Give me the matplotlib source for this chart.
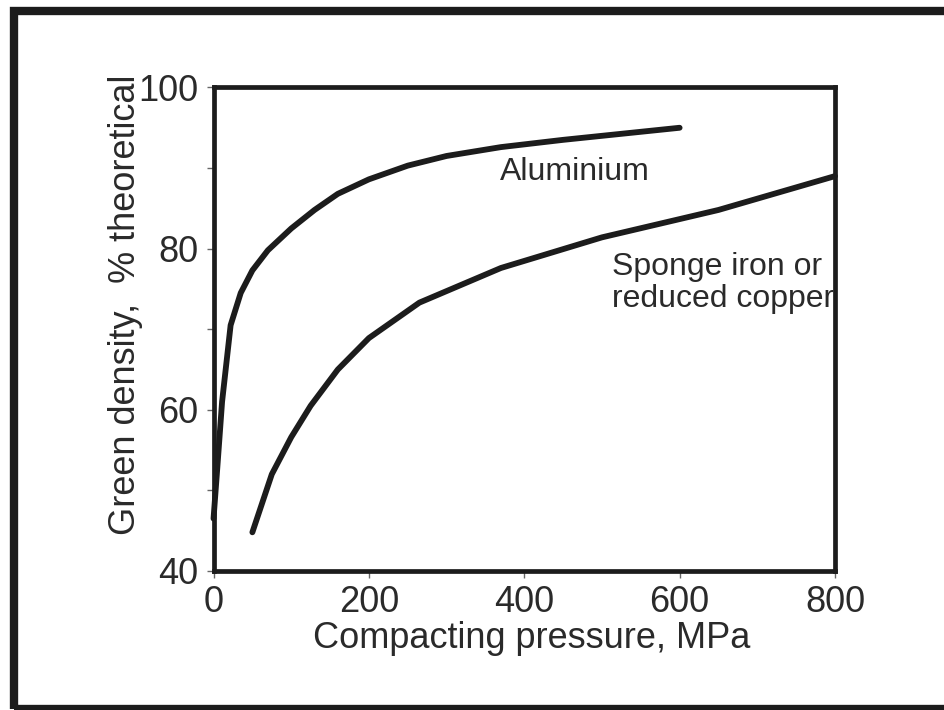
import matplotlib

matplotlib.use("Agg")
import matplotlib.pyplot as plt
from matplotlib.patches import Rectangle
from matplotlib.ticker import MultipleLocator

# values
al_pressure = [0, 5, 11, 22, 35, 50, 70, 100, 130, 160, 200, 250, 300, 370, 450, 520, 600]
al_density = [46.5, 53, 61, 70.5, 74.5, 77.3, 79.8, 82.5, 84.8, 86.8, 88.6, 90.3, 91.5,
              92.6, 93.5, 94.2, 95.0]
fe_pressure = [50, 75, 100, 125, 160, 200, 265, 370, 500, 650, 800]
fe_density = [44.8, 52, 56.6, 60.5, 65, 68.9, 73.3, 77.6, 81.4, 84.8, 89]
x_ticks = [0, 200, 400, 600, 800]
y_ticks = [40, 60, 80, 100]

INK = "#1c1c1c"
TXT = "#2a2a2a"
plt.rcParams["font.family"] = ["Liberation Sans", "DejaVu Sans"]

fig = plt.figure(figsize=(9.44, 7.10), dpi=100)
ax = fig.add_axes([0.2262, 0.1958, 0.6583, 0.6810])

for xs, ys in ((al_pressure, al_density), (fe_pressure, fe_density)):
    ax.plot(xs, ys, color=INK, lw=4.2, solid_capstyle="round",
            solid_joinstyle="round", clip_on=False)

ax.set_xlim(0, 800)
ax.set_ylim(40, 100)
ax.set_xticks(x_ticks)
ax.set_yticks(y_ticks)
ax.yaxis.set_minor_locator(MultipleLocator(10))
for s in ax.spines.values():
    s.set_linewidth(3.4)
    s.set_color(INK)
ax.tick_params(which="both", direction="out", length=5, width=1.0, color="#666666",
               labelsize=26, labelcolor=TXT, pad=5)
ax.tick_params(axis="y", pad=6)

ax.set_xlabel("Compacting pressure, MPa", fontsize=26, color=TXT)
ax.set_ylabel("Green density,  % theoretical", fontsize=26, color=TXT)
ax.xaxis.set_label_coords(0.512, -0.104)
ax.yaxis.set_label_coords(-0.114, 0.55)

ax.text(369, 89.5, "Aluminium", fontsize=23, color=TXT, ha="left", va="center")
ax.text(513, 75.7, "Sponge iron or\nreduced copper", fontsize=23, color=TXT,
        ha="left", va="center", linespacing=1.1)

# outer frame around the figure (right side runs off the picture)
fig.patches.append(Rectangle((13.5 / 944, 1 - 709 / 710), 1.1, (709 - 11) / 710,
                             transform=fig.transFigure, fill=False,
                             edgecolor=INK, lw=6))

fig.savefig("out.png", dpi=100)
